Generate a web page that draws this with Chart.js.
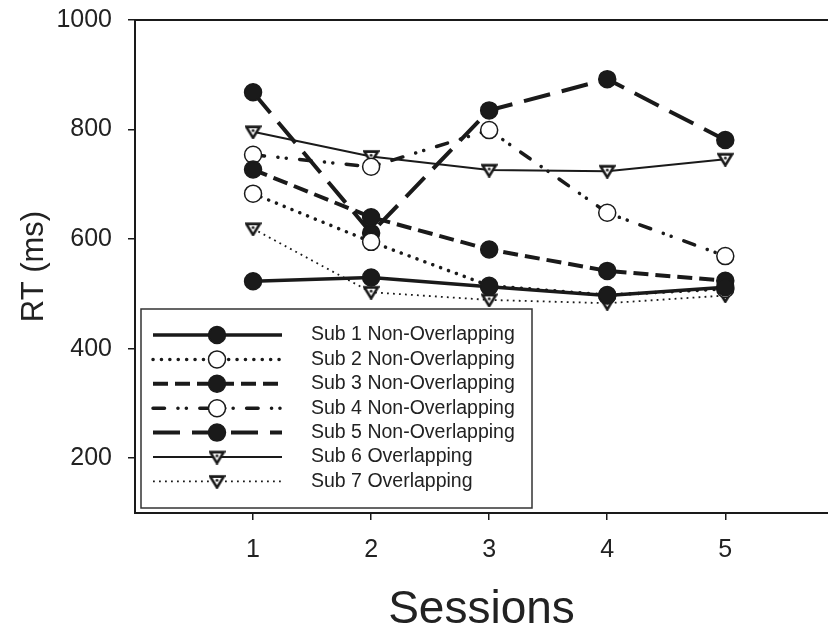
<!DOCTYPE html>
<html>
<head>
<meta charset="utf-8">
<script src="https://cdn.jsdelivr.net/npm/chart.js@4/dist/chart.umd.min.js"></script>
<style>
  html, body { margin: 0; padding: 0; background: #fff; }
  #wrap { width: 828px; height: 629px; }
</style>
</head>
<body>
<div id="wrap"><canvas id="rt" width="828" height="629"></canvas></div>
<script>
// RT (ms) per session, one line per subject

const sessions = [1, 2, 3, 4, 5];
const yTicks = [200, 400, 600, 800, 1000];
const yMin = 100;
const yMax = 1000;
const xMin = 0;
const xMax = 5.87;

const names = [
  "Sub 1 Non-Overlapping",
  "Sub 2 Non-Overlapping",
  "Sub 3 Non-Overlapping",
  "Sub 4 Non-Overlapping",
  "Sub 5 Non-Overlapping",
  "Sub 6 Overlapping",
  "Sub 7 Overlapping"
];

const sub1 = [523, 530, 513, 497, 512];
const sub2 = [683, 595, 515, 498, 509];
const sub3 = [727, 640, 581, 542, 524];
const sub4 = [754, 732, 799, 648, 569];
const sub5 = [868, 611, 835, 892, 781];
const sub6 = [796, 751, 726, 724, 746];
const sub7 = [619, 503, 489, 483, 497];

const ink = "#1a1a1a";
const family = "'Liberation Sans', Arial, Helvetica, sans-serif";

// down-pointing triangle with a dot inside
function makeTriangle() {
  const c = document.createElement("canvas");
  c.width = 17;
  c.height = 15;
  const g = c.getContext("2d");
  g.beginPath();
  g.moveTo(1.8, 2.6);
  g.lineTo(15.2, 2.6);
  g.lineTo(8.5, 13.6);
  g.closePath();
  g.fillStyle = "#fff";
  g.fill();
  g.lineWidth = 2.6;
  g.lineJoin = "miter";
  g.strokeStyle = ink;
  g.stroke();
  g.beginPath();
  g.arc(8.5, 6.4, 1.4, 0, Math.PI * 2);
  g.fillStyle = ink;
  g.fill();
  return c;
}
const triangle = makeTriangle();

function series(label, values, extra) {
  return Object.assign({
    label,
    data: values.map((v, i) => ({ x: sessions[i], y: v })),
    borderColor: ink,
    pointBorderColor: ink,
    pointBackgroundColor: ink,
    pointBorderWidth: 1.5,
    pointRadius: 8.5,
    pointHoverRadius: 8.5,
    pointStyle: "circle",
    borderCapStyle: "butt",
    borderDash: [],
    tension: 0,
    fill: false
  }, extra);
}

const datasets = [
  series(names[0], sub1, { borderWidth: 3.5 }),
  series(names[1], sub2, { borderWidth: 3.5, borderDash: [0.1, 8.3], borderCapStyle: "round", pointBackgroundColor: "#fff" }),
  series(names[2], sub3, { borderWidth: 4, borderDash: [15, 7] }),
  series(names[3], sub4, { borderWidth: 3.5, borderDash: [11.5, 13.4, 0.1, 8.3, 0.1, 13.4], borderCapStyle: "round", pointBackgroundColor: "#fff" }),
  series(names[4], sub5, { borderWidth: 4, borderDash: [27, 12] }),
  series(names[5], sub6, { borderWidth: 2, pointStyle: triangle }),
  series(names[6], sub7, { borderWidth: 1.8, borderDash: [1.8, 4.2], pointStyle: triangle })
];

function drawMarker(ctx, ds, x, y) {
  if (ds.pointStyle instanceof HTMLCanvasElement) {
    ctx.drawImage(ds.pointStyle, x - ds.pointStyle.width / 2, y - ds.pointStyle.height / 2);
    return;
  }
  ctx.beginPath();
  ctx.arc(x, y, ds.pointRadius, 0, Math.PI * 2);
  ctx.fillStyle = ds.pointBackgroundColor;
  ctx.fill();
  ctx.lineWidth = ds.pointBorderWidth;
  ctx.strokeStyle = ds.pointBorderColor;
  ctx.stroke();
}

// boxed legend sitting inside the plot, lower left
const boxLegend = {
  id: "boxLegend",
  afterDatasetsDraw(chart) {
    const ctx = chart.ctx;
    const x0 = chart.chartArea.left + 6;
    const y0 = 309;
    ctx.save();
    ctx.fillStyle = "#fff";
    ctx.fillRect(x0, y0, 391, 199);
    ctx.strokeStyle = "#333";
    ctx.lineWidth = 1.5;
    ctx.strokeRect(x0, y0, 391, 199);

    chart.data.datasets.forEach((ds, i) => {
      const y = y0 + 26 + i * 24.4;
      ctx.beginPath();
      ctx.setLineDash(ds.borderDash);
      ctx.lineCap = ds.borderCapStyle;
      ctx.lineWidth = ds.borderWidth;
      ctx.strokeStyle = ds.borderColor;
      ctx.moveTo(x0 + 12, y);
      ctx.lineTo(x0 + 141, y);
      ctx.stroke();
      ctx.setLineDash([]);
      ctx.lineCap = "butt";
      drawMarker(ctx, ds, x0 + 76, y);

      ctx.fillStyle = "#222";
      ctx.font = "19.5px " + family;
      ctx.textAlign = "left";
      ctx.textBaseline = "middle";
      ctx.fillText(ds.label, x0 + 170, y);
    });
    ctx.restore();
  }
};

new Chart(document.getElementById("rt"), {
  type: "line",
  data: { datasets },
  plugins: [boxLegend],
  options: {
    responsive: false,
    animation: false,
    devicePixelRatio: 1,
    layout: { autoPadding: false, padding: { top: 20, left: 0, right: 0, bottom: 0 } },
    plugins: {
      legend: { display: false },
      tooltip: { enabled: false }
    },
    scales: {
      x: {
        type: "linear",
        position: "bottom",
        min: xMin,
        max: xMax,
        afterBuildTicks: ax => { ax.ticks = sessions.map(v => ({ value: v })); },
        afterFit: ax => { ax.height = 116; ax.paddingLeft = 0; ax.paddingRight = 0; },
        grid: { drawOnChartArea: false, drawTicks: true, tickLength: 7, color: ink, lineWidth: 1.5 },
        border: { display: true, color: ink, width: 2 },
        ticks: { color: "#222", font: { size: 25, family }, padding: 15, maxRotation: 0 },
        title: {
          display: true,
          text: "Sessions",
          color: "#222",
          font: { size: 46, family, lineHeight: 0.8 },
          padding: { top: 0, bottom: 0 }
        }
      },
      xTop: {
        type: "linear",
        position: "top",
        min: xMin,
        max: xMax,
        afterFit: ax => { ax.height = 0; ax.paddingLeft = 0; ax.paddingRight = 0; },
        grid: { drawOnChartArea: false, drawTicks: false },
        border: { display: true, color: ink, width: 2 },
        ticks: { display: false }
      },
      y: {
        type: "linear",
        position: "left",
        min: yMin,
        max: yMax,
        afterBuildTicks: ax => { ax.ticks = yTicks.map(v => ({ value: v })); },
        afterFit: ax => { ax.width = 135; ax.paddingTop = 0; ax.paddingBottom = 0; },
        grid: { drawOnChartArea: false, drawTicks: true, tickLength: 7, color: ink, lineWidth: 1.5 },
        border: { display: true, color: ink, width: 2 },
        ticks: { color: "#222", font: { size: 25, family }, padding: 16, callback: v => String(v) },
        title: {
          display: true,
          text: "RT (ms)",
          color: "#222",
          font: { size: 31, family },
          padding: { top: 16, bottom: 0 }
        }
      }
    }
  }
});
</script>
</body>
</html>
